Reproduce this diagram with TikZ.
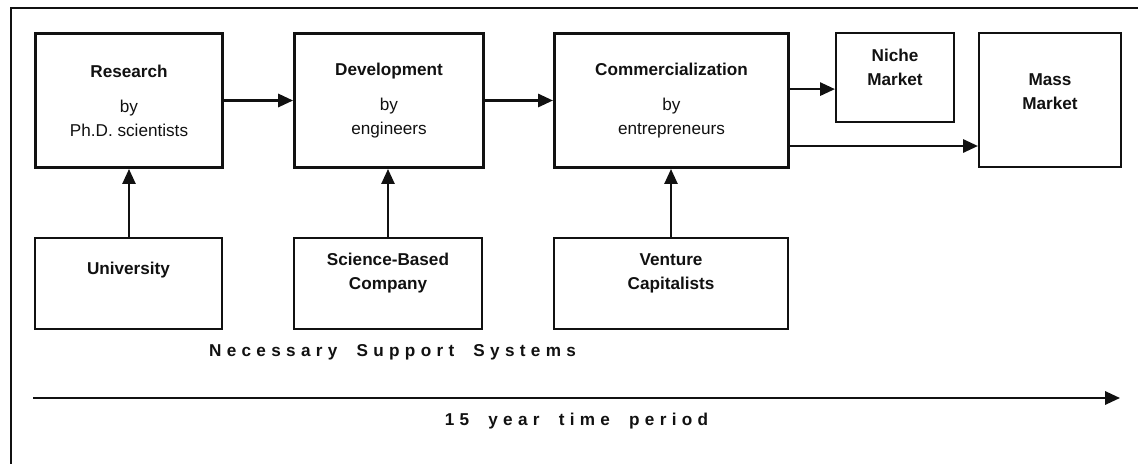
\documentclass[tikz,border=0pt]{standalone}
\usepackage{fontspec}
\setmainfont{Liberation Sans}
\newfontfamily\spacedfont{Liberation Sans}[LetterSpace=31,WordSpace=1.9]
\usepackage{tikz}
\usepackage{xcolor}
\usetikzlibrary{arrows.meta,positioning}
\definecolor{ink}{HTML}{111111}

\tikzset{
  stage/.style={draw=ink,line width=2.2pt,align=center,inner sep=0pt,
                minimum height=3.35cm},
  market/.style={draw=ink,line width=1.5pt,inner sep=0pt},
  support/.style={draw=ink,line width=1.5pt,inner sep=0pt,minimum height=2.28cm},
  flow/.style={draw=ink,line width=1.5pt,-{Triangle[length=0.37cm,width=0.33cm]}},
  spaced/.style={font=\spacedfont\bfseries},
  every label/.style={align=center,font=\bfseries,text=ink}
}

\begin{document}
\fontsize{12.2pt}{17pt}\selectfont
\begin{tikzpicture}[x=0.025cm,y=-0.025cm,every node/.style={text=ink}]
  \useasboundingbox (0,0) rectangle (1138,464);
  \draw[ink,line width=1pt] (1138,8) -- (11,8) -- (11,464);

  % main stages
  \node[stage,minimum width=4.68cm] (research) at (129,100.5)
    {\textbf{Research}\\[8pt]by\\Ph.D. scientists};
  \node[stage,minimum width=4.72cm] (develop) at (389,100.5)
    {\textbf{Development}\\[8pt]by\\engineers};
  \node[stage,minimum width=5.85cm] (commerce) at (671.5,100.5)
    {\textbf{Commercialization}\\[8pt]by\\entrepreneurs};

  % markets
  \node[market,minimum width=2.95cm,minimum height=2.23cm,
        label={[yshift=0.26cm]center:Niche\\Market}] (niche) at (895,77.5) {};
  \node[market,minimum width=3.55cm,minimum height=3.35cm,
        label={[yshift=0.2cm]center:Mass\\Market}] (mass) at (1050,100) {};

  % support systems
  \node[support,minimum width=4.68cm,
        label={[yshift=0.34cm]center:University}] (univ) at (128.5,283.5) {};
  \node[support,minimum width=4.7cm,
        label={[yshift=0.25cm]center:Science-Based\\Company}] (company) at (388,283.5) {};
  \node[support,minimum width=5.85cm,
        label={[yshift=0.25cm]center:Venture\\Capitalists}] (venture) at (671,283.5) {};

  \node[spaced] (support) at (392.5,352) {Necessary Support Systems};

  % time line
  \coordinate (tstart) at (33,398);
  \coordinate (tend) at (1120,398);
  \draw[flow] (tstart) -- (tend);
  \node[spaced] (period) at (576.5,421) {15 year time period};

  % connectors
  \draw[flow] (research) -- (develop);
  \draw[flow] (develop) -- (commerce);
  \draw[flow] ([yshift=-0.29cm]niche.west -| commerce.east) -- ([yshift=-0.29cm]niche.west);
  \draw[flow] ([yshift=-1.15cm]mass.west -| commerce.east) -- ([yshift=-1.15cm]mass.west);
  \draw[flow,line width=1.1pt] (univ.north -| research) -- (research.south);
  \draw[flow,line width=1.1pt] (company.north) -- (company.north |- develop.south);
  \draw[flow,line width=1.1pt] (venture.north) -- (venture.north |- commerce.south);
\end{tikzpicture}
\end{document}
